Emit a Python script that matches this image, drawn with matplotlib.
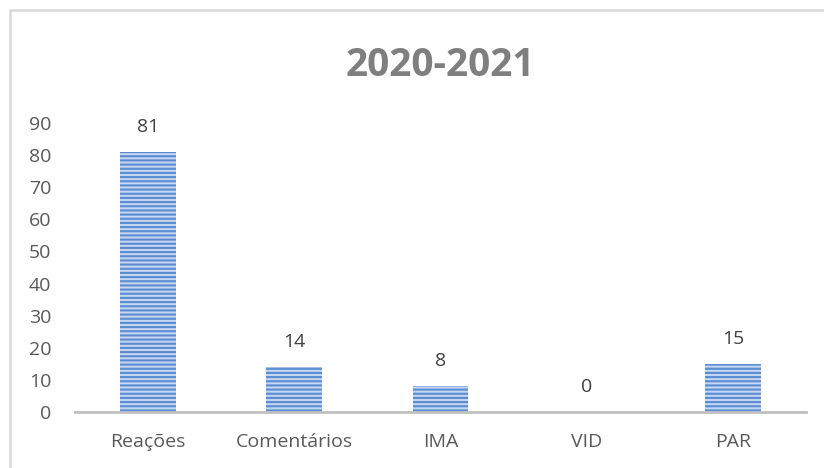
import matplotlib.pyplot as plt
from matplotlib.patches import Rectangle

categorias = ["Reações", "Comentários", "IMA", "VID", "PAR"]
valores = [81, 14, 8, 0, 15]
titulo = "2020-2021"

plt.rcParams['font.family'] = ['Open Sans', 'DejaVu Sans']
plt.rcParams['hatch.linewidth'] = 1.5

fig = plt.figure(figsize=(8.24, 4.68), dpi=100)
ax = fig.add_axes([75 / 824, 56 / 468, 731 / 824, 289 / 468])

# barras listradas (fundo claro + riscas horizontais)
x = range(len(categorias))
bars = ax.bar(x, valores, width=0.383, color='#c3d6f2', edgecolor='#5b8bd0',
              linewidth=0, hatch='----')

for xi, v in zip(x, valores):
    ax.annotate(str(v), (xi, v), xytext=(0, 18), textcoords='offset points',
                ha='center', va='center', fontsize=14, color='#404040')

ax.set_xlim(-0.5, len(categorias) - 0.5)
ax.set_ylim(0, 90)
ax.set_yticks(range(0, 91, 10))
ax.set_xticks(list(x))
ax.set_xticklabels(categorias)
ax.tick_params(axis='both', length=0, labelsize=14, labelcolor='#595959')
ax.tick_params(axis='x', pad=15)
ax.tick_params(axis='y', pad=17)

for s in ['top', 'right', 'left']:
    ax.spines[s].set_visible(False)
ax.spines['bottom'].set_color('#c0c0c0')
ax.spines['bottom'].set_linewidth(2)

fig.text(440 / 824, 1 - 66 / 468, titulo, ha='center', va='center',
         fontsize=28, fontweight='bold', color='#7f7f7f')

# moldura do gráfico
fig.patches.append(Rectangle((10 / 824, -0.1), 1.2, 1 - 10 / 468 + 0.1,
                             transform=fig.transFigure, fill=False,
                             edgecolor='#d9d9d9', linewidth=1.8))

fig.savefig('out.png', dpi=100)
